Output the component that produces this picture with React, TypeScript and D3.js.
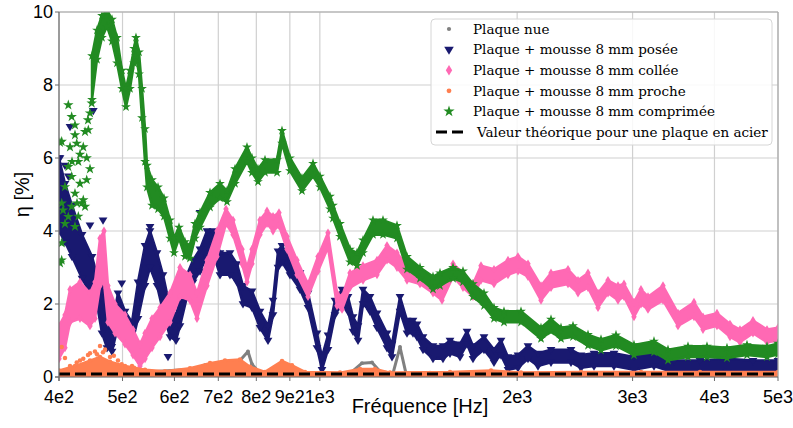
import * as d3 from "d3";

const W = 793;
const H = 428;
const plot = { left: 59, right: 778, top: 12, bottom: 377 };

// Plaque nue (grey dots, mostly hidden under the orange ones)
const nueFreq = [400, 442.9, 462, 531.7, 645, 668, 704.2, 755.4, 776.9, 788, 810.4, 1111.8, 1159.6, 1201.1, 1235.3, 1293, 1325.2, 1353.4, 1472.5, 2027.2, 5000];
const nueEta = [0.1, 0.3, 0.15, 0.12, 0.22, 0.32, 0.28, 0.45, 0.7, 0.35, 0.1, 0.1, 0.38, 0.4, 0.15, 0.1, 0.82, 0.1, 0.12, 0.1, 0.1];

// Plaque + mousse 8 mm posée
const poseeFreq = [400, 408.5, 418.7, 433.7, 449.2, 457.1, 465.2, 473.5, 481.9, 492.1, 504.4, 516.9, 527.9, 541.1, 550.7, 564.4, 576.4, 590.8, 603.3, 611.9, 627.1, 640.5, 656.4, 672.7, 687.1, 704.2, 729.3, 747.5, 763.4, 788, 810.4, 833.5, 848.3, 863.3, 875.5, 900.5, 932.7, 959.3, 990.1, 1007.6, 1029.1, 1054.7, 1081, 1104, 1123.5, 1143.5, 1163.7, 1192.7, 1222.4, 1266.1, 1288.5, 1325.2, 1358.2, 1387.2, 1406.8, 1436.8, 1488.1, 1541.3, 1579.7, 1636.2, 1676.9, 1712.6, 1780.1, 1843.7, 1889.6, 1936.7, 2005.9, 2077.6, 2151.9, 2252.5, 2416.4, 2502.8, 2619.8, 2810.3, 3014.9, 3234.4, 3469.8, 3801.5, 4179.7, 4579.6, 5000];
const poseeLow = [4.0, 3.7, 3.3, 2.7, 2.2, 2.0, 1.2, 0.8, 0.7, 1.4, 1.0, 0.9, 1.6, 2.5, 3.0, 2.5, 1.8, 1.1, 1.0, 1.4, 2.2, 2.6, 2.9, 3.3, 3.4, 2.8, 2.8, 2.6, 2.0, 1.9, 1.35, 1.0, 1.7, 3.0, 3.15, 2.8, 2.4, 1.9, 0.8, 0.2, 0.75, 1.7, 2.0, 1.8, 1.25, 1.0, 2.0, 1.8, 1.35, 0.8, 0.55, 1.8, 1.2, 1.2, 1.1, 0.75, 0.5, 0.5, 0.65, 0.55, 0.9, 0.5, 0.75, 0.4, 0.6, 0.2, 0.25, 0.5, 0.3, 0.4, 0.4, 0.25, 0.3, 0.3, 0.2, 0.3, 0.12, 0.12, 0.15, 0.12, 0.12];
const poseeHigh = [6.0, 5.3, 4.7, 3.9, 3.3, 2.8, 2.5, 1.8, 1.4, 2.3, 1.8, 1.5, 2.6, 3.6, 4.0, 3.4, 2.8, 1.9, 1.7, 2.1, 2.8, 3.2, 3.5, 4.0, 4.0, 3.4, 3.4, 3.1, 2.5, 2.35, 1.8, 1.4, 2.1, 3.45, 3.6, 3.2, 2.85, 2.3, 1.2, 0.55, 1.15, 2.1, 2.4, 2.2, 1.65, 1.4, 2.4, 2.2, 1.75, 1.2, 0.9, 2.2, 1.55, 1.55, 1.45, 1.1, 0.85, 0.85, 1.0, 0.9, 1.25, 0.85, 1.1, 0.75, 1.0, 0.55, 0.6, 0.85, 0.65, 0.75, 0.75, 0.6, 0.65, 0.65, 0.55, 0.65, 0.45, 0.45, 0.5, 0.45, 0.45];
const poseeOutFreq = [401.4, 415.8, 451.2, 466.9, 446, 498.6, 481.4, 586.6, 597.6, 550.7, 656.4, 408.5, 413.3];
const poseeOutEta = [6.0, 6.86, 7.3, 4.3, 4.16, 2.57, 0.83, 0.56, 1.42, 4.12, 4.5, 5.8, 5.5];

// Plaque + mousse 8 mm collée
const colleeFreq = [400, 408.5, 415.8, 430.6, 446, 453.9, 462, 468.5, 475.1, 487, 504.4, 518.8, 531.7, 541.1, 554.6, 570.4, 590.8, 611.9, 633.7, 649.5, 672.7, 696.8, 719.2, 737.1, 760.8, 774.2, 788, 810.4, 830.6, 848.3, 866.3, 891, 922.9, 959.3, 993.6, 1029.1, 1062.1, 1081, 1111.8, 1163.7, 1222.4, 1266.1, 1311.3, 1358.2, 1421.7, 1488.1, 1535.9, 1596.5, 1653.5, 1712.6, 1761.4, 1843.7, 1936.7, 2005.9, 2077.6, 2174.7, 2252.5, 2391.1, 2476.6, 2565.1, 2656.8, 2751.8, 2850.1, 2910.8, 3014.9, 3089.9, 3166.9, 3338.2, 3518.9, 3722.3, 3841.8, 4035.4, 4224, 4375, 4579.6, 4810.5, 5000];
const colleeLow = [0.5, 0.8, 1.5, 1.6, 1.4, 1.6, 2.5, 2.6, 1.5, 1.2, 0.9, 0.6, 0.3, 0.5, 0.8, 1.1, 1.5, 2.2, 2.1, 1.6, 2.5, 3.3, 4.2, 3.9, 3.1, 2.6, 3.1, 3.9, 4.2, 4.0, 4.15, 3.5, 2.8, 2.2, 2.9, 3.55, 1.95, 1.85, 2.45, 2.65, 2.8, 3.2, 3.0, 2.65, 2.55, 2.3, 2.1, 2.75, 2.45, 2.2, 2.65, 2.55, 2.8, 2.9, 2.75, 2.1, 2.45, 2.55, 2.3, 2.45, 1.9, 2.3, 2.1, 2.2, 1.65, 2.0, 1.85, 2.1, 1.4, 1.65, 1.3, 1.4, 1.1, 0.95, 1.2, 0.95, 1.0];
const colleeHigh = [1.4, 1.7, 2.4, 2.6, 2.3, 2.6, 3.8, 4.0, 2.5, 2.0, 1.7, 1.3, 0.9, 1.2, 1.6, 1.9, 2.3, 3.0, 2.8, 2.3, 3.2, 4.0, 4.6, 4.3, 3.5, 3.0, 3.5, 4.3, 4.55, 4.4, 4.5, 3.85, 3.2, 2.55, 3.3, 3.95, 2.3, 2.2, 2.85, 3.05, 3.2, 3.6, 3.4, 3.05, 2.95, 2.65, 2.5, 3.1, 2.85, 2.55, 3.05, 2.95, 3.2, 3.3, 3.1, 2.5, 2.85, 2.95, 2.65, 2.85, 2.3, 2.65, 2.5, 2.55, 2.05, 2.4, 2.2, 2.5, 1.75, 2.05, 1.65, 1.75, 1.45, 1.3, 1.55, 1.3, 1.35];

// Plaque + mousse 8 mm proche
const procheFreq = [400, 423.1, 446, 462, 478.5, 504.4, 541.1, 580.5, 633.7, 679.9, 716.6, 755.4, 782.4, 824.8, 875.5, 906.8, 949.2, 1073.4, 1151.5, 1213.8, 1279.5, 1579.7, 1824.4, 2027.2, 2502.8, 3089.9, 3801.5, 5000];
const procheLow = [0.02, 0.02, 0.02, 0.02, 0.02, 0.02, 0.02, 0.02, 0.02, 0.02, 0.02, 0.02, 0.02, 0.02, 0.02, 0.02, 0.02, 0.02, 0.02, 0.02, 0.02, 0.02, 0.02, 0.02, 0.02, 0.02, 0.02, 0.02];
const procheHigh = [0.18, 0.3, 0.45, 0.55, 0.42, 0.3, 0.2, 0.16, 0.24, 0.38, 0.45, 0.48, 0.28, 0.14, 0.44, 0.32, 0.14, 0.12, 0.22, 0.22, 0.12, 0.14, 0.18, 0.12, 0.14, 0.14, 0.14, 0.14];
const procheOutFreq = [462, 453.9, 470.2, 442.9, 478.5, 430.6, 492.1, 415.8, 408.5, 403.8, 498.6, 516.9, 446, 457.1, 435.6, 485, 520.6, 425.7, 466.9];
const procheOutEta = [0.85, 0.7, 0.75, 0.6, 0.55, 0.45, 0.45, 0.3, 0.52, 0.82, 0.35, 0.3, 0.65, 0.62, 0.5, 0.58, 0.25, 0.4, 0.68];

// Plaque + mousse 8 mm comprimée
const comprimeeFreq = [449.2, 457.1, 465.2, 473.5, 481.9, 490.4, 499.1, 506.1, 513.3, 520.6, 524.2, 529.8, 535.4, 541.1, 544.9, 554.6, 566.4, 578.4, 590.8, 599.1, 609.7, 622.7, 633.7, 645, 656.4, 679.9, 704.2, 721.7, 742.3, 774.2, 788, 804.7, 824.8, 860.3, 875.5, 900.5, 939.2, 976.3, 1000.6, 1036.3, 1047.3, 1073.4, 1111.8, 1139.4, 1163.7, 1205.3, 1248.4, 1311.3, 1358.2, 1421.7, 1488.1, 1525.2, 1596.5, 1653.5, 1712.6, 1780.1, 1843.7, 1909.6, 2027.2, 2174.7, 2252.5, 2333, 2433.5, 2565.1, 2685, 2830.2, 3014.9, 3234.4, 3397.4, 3644.7, 3896.1, 4179.7, 4484.1, 4810.5, 5000];
const comprimeeLow = [7.6, 8.7, 9.3, 9.6, 9.2, 8.6, 7.9, 7.4, 7.9, 8.6, 8.8, 8.3, 7.1, 5.9, 5.2, 4.7, 4.6, 4.4, 3.8, 3.4, 3.8, 3.3, 3.25, 3.8, 4.1, 4.65, 4.9, 4.8, 5.3, 5.9, 5.6, 5.35, 5.6, 5.6, 6.4, 5.65, 5.1, 5.5, 5.2, 4.6, 4.35, 3.85, 3.15, 3.05, 3.4, 3.9, 3.9, 3.8, 2.95, 2.7, 2.4, 2.5, 2.7, 2.6, 2.2, 1.95, 1.6, 1.5, 1.5, 1.05, 1.25, 1.05, 1.1, 0.86, 0.73, 0.85, 0.6, 0.68, 0.46, 0.55, 0.55, 0.52, 0.6, 0.55, 0.62];
const comprimeeHigh = [8.8, 9.5, 9.9, 10.05, 9.8, 9.3, 8.4, 7.9, 8.4, 9.0, 9.3, 8.9, 7.9, 6.8, 5.8, 5.4, 5.2, 4.9, 4.3, 3.8, 4.1, 3.7, 3.6, 4.2, 4.5, 5.05, 5.3, 5.1, 5.7, 6.3, 6.0, 5.7, 5.95, 5.95, 6.75, 6.0, 5.45, 5.85, 5.5, 4.95, 4.7, 4.2, 3.5, 3.4, 3.75, 4.3, 4.3, 4.15, 3.3, 3.0, 2.75, 2.85, 3.0, 2.9, 2.55, 2.3, 1.9, 1.8, 1.8, 1.35, 1.58, 1.35, 1.4, 1.16, 1.03, 1.15, 0.88, 0.98, 0.75, 0.84, 0.84, 0.8, 0.88, 0.84, 0.92];
const comprimeeOutFreq = [403.8, 413.3, 418.2, 423.1, 423.1, 415.8, 425.7, 438.3, 443.4, 442.9, 446, 448.7, 435.6, 440.9, 428.1, 413.3, 418.2, 430.6, 440.9, 408.5, 423.1, 435.6, 438.3, 403.8, 418.2, 433.2, 403.8, 403.8, 423.1, 413.3, 401.4, 408.5, 426.1, 405.7, 401.4, 418.7, 430.6, 428.1, 446];
const comprimeeOutEta = [6.45, 7.45, 7.13, 6.9, 6.63, 6.3, 6.4, 6.72, 6.77, 7.04, 7.23, 7.5, 6.3, 6.0, 5.9, 5.76, 5.49, 5.3, 5.4, 5.21, 5.03, 4.85, 4.67, 4.76, 4.67, 4.76, 3.67, 3.2, 4.12, 4.39, 3.12, 4.2, 4.76, 4.57, 6.42, 5.9, 6.1, 4.4, 5.7];

const theoreticalEta = 0.08;

const xTicks = [400, 500, 600, 700, 800, 900, 1000, 2000, 3000, 4000, 5000];
const xTickLabels = ["4e2", "5e2", "6e2", "7e2", "8e2", "9e2", "1e3", "2e3", "3e3", "4e3", "5e3"];
const yTicks = [0, 2, 4, 6, 8, 10];

const legendLabels = [
  "Plaque nue",
  "Plaque + mousse 8 mm posée",
  "Plaque + mousse 8 mm collée",
  "Plaque + mousse 8 mm proche",
  "Plaque + mousse 8 mm comprimée",
  "Valeur théorique pour une plaque en acier",
];

const C = {
  nue: "#808080",
  posee: "#191970",
  collee: "#ff69b4",
  proche: "#ff7f50",
  comprimee: "#228b22",
};

type Kind = "dot" | "tri" | "diamond" | "star";

function markerPath(kind: Kind, s: number) {
  if (kind === "dot") return d3.symbol().type(d3.symbolCircle).size(s)()!;
  if (kind === "star") return d3.symbol().type(d3.symbolStar).size(s)()!;
  if (kind === "tri") {
    const r = Math.sqrt(s) * 0.62;
    return `M${-r},${-r * 0.6}L${r},${-r * 0.6}L0,${r * 1.05}Z`;
  }
  const w = Math.sqrt(s) * 0.38;
  const h = Math.sqrt(s) * 0.62;
  return `M0,${-h}L${w},0L0,${h}L${-w},0Z`;
}

const x = d3.scaleLog().domain([400, 5000]).range([plot.left, plot.right]);
const y = d3.scaleLinear().domain([0, 10]).range([plot.bottom, plot.top]);

function Band({ freq, lo, hi, color, kind, size }: { freq: number[]; lo: number[]; hi: number[]; color: string; kind: Kind; size: number }) {
  const area = d3
    .area<number>()
    .x((_, i) => x(freq[i]))
    .y0((_, i) => y(lo[i]))
    .y1((_, i) => y(hi[i]));
  const m = markerPath(kind, size);
  return (
    <g>
      <path d={area(freq) ?? ""} fill={color} stroke={color} strokeWidth={2.5} strokeLinejoin="round" />
      {freq.map((f, i) => (
        <g key={i}>
          <path d={m} transform={`translate(${x(f)},${y(hi[i])})`} fill={color} />
          <path d={m} transform={`translate(${x(f)},${y(lo[i])})`} fill={color} />
        </g>
      ))}
    </g>
  );
}

function Scatter({ freq, eta, color, kind, size }: { freq: number[]; eta: number[]; color: string; kind: Kind; size: number }) {
  const m = markerPath(kind, size);
  return (
    <g>
      {freq.map((f, i) => (
        <path key={i} d={m} transform={`translate(${x(f)},${y(eta[i])})`} fill={color} />
      ))}
    </g>
  );
}

export default function App() {
  const tickFont = "'Liberation Sans', Arial, sans-serif";
  const legendFont = "'DejaVu Serif', serif";
  const nueLine = d3
    .line<number>()
    .x((f) => x(f))
    .y((_, i) => y(nueEta[i]));

  const legendItems: { kind: Kind | "dash"; color: string; size: number }[] = [
    { kind: "dot", color: C.nue, size: 14 },
    { kind: "tri", color: C.posee, size: 60 },
    { kind: "diamond", color: C.collee, size: 70 },
    { kind: "dot", color: C.proche, size: 18 },
    { kind: "star", color: C.comprimee, size: 40 },
    { kind: "dash", color: "#000", size: 0 },
  ];

  return (
    <svg width={W} height={H} style={{ position: "absolute", left: 0, top: 0, background: "#fff" }}>
      <defs>
        <clipPath id="plot-clip">
          <rect x={plot.left} y={plot.top} width={plot.right - plot.left} height={plot.bottom - plot.top} />
        </clipPath>
      </defs>

      {/* grid */}
      {xTicks.map((t) => (
        <line key={t} x1={x(t)} x2={x(t)} y1={plot.top} y2={plot.bottom} stroke="#d0d0d0" strokeWidth={1.2} />
      ))}
      {yTicks.map((t) => (
        <line key={t} x1={plot.left} x2={plot.right} y1={y(t)} y2={y(t)} stroke="#d0d0d0" strokeWidth={1.2} />
      ))}

      <g clipPath="url(#plot-clip)">
        <path d={nueLine(nueFreq) ?? ""} fill="none" stroke={C.nue} strokeWidth={3} strokeLinejoin="round" />
        <Scatter freq={nueFreq} eta={nueEta} color={C.nue} kind="dot" size={12} />
        <Band freq={poseeFreq} lo={poseeLow} hi={poseeHigh} color={C.posee} kind="tri" size={50} />
        <Scatter freq={poseeOutFreq} eta={poseeOutEta} color={C.posee} kind="tri" size={50} />
        <Band freq={colleeFreq} lo={colleeLow} hi={colleeHigh} color={C.collee} kind="diamond" size={50} />
        <Band freq={procheFreq} lo={procheLow} hi={procheHigh} color={C.proche} kind="dot" size={16} />
        <Scatter freq={procheOutFreq} eta={procheOutEta} color={C.proche} kind="dot" size={16} />
        <Band freq={comprimeeFreq} lo={comprimeeLow} hi={comprimeeHigh} color={C.comprimee} kind="star" size={30} />
        <Scatter freq={comprimeeOutFreq} eta={comprimeeOutEta} color={C.comprimee} kind="star" size={34} />
        <line
          x1={plot.left}
          x2={plot.right}
          y1={y(theoreticalEta)}
          y2={y(theoreticalEta)}
          stroke="#000"
          strokeWidth={3}
          strokeDasharray="11 5"
        />
      </g>

      {/* frame */}
      <line x1={plot.left} x2={plot.right} y1={plot.top} y2={plot.top} stroke="#a8a8a8" strokeWidth={1.2} />
      <line x1={plot.right} x2={plot.right} y1={plot.top} y2={plot.bottom} stroke="#a8a8a8" strokeWidth={1.2} />
      <line x1={plot.left} x2={plot.left} y1={plot.top} y2={plot.bottom + 4} stroke="#6b6b6b" strokeWidth={1.2} />
      <line x1={plot.left - 4} x2={plot.right} y1={plot.bottom} y2={plot.bottom} stroke="#6b6b6b" strokeWidth={1.2} />

      {xTicks.map((t, i) => (
        <g key={t}>
          <line x1={x(t)} x2={x(t)} y1={plot.bottom} y2={plot.bottom + 4} stroke="#6b6b6b" />
          <text x={x(t)} y={403} textAnchor="middle" fontFamily={tickFont} fontSize={18} fill="#000">
            {xTickLabels[i]}
          </text>
        </g>
      ))}
      {yTicks.map((t) => (
        <g key={t}>
          <line x1={plot.left - 4} x2={plot.left} y1={y(t)} y2={y(t)} stroke="#6b6b6b" />
          <text x={53} y={y(t)} dy="0.35em" textAnchor="end" fontFamily={tickFont} fontSize={18} fill="#000">
            {t}
          </text>
        </g>
      ))}

      <text x={420} y={413} textAnchor="middle" fontFamily={tickFont} fontSize={20} fill="#000">
        Fréquence [Hz]
      </text>
      <text
        transform={`translate(29,${(plot.top + plot.bottom) / 2}) rotate(-90)`}
        textAnchor="middle"
        fontFamily={tickFont}
        fontSize={20}
        fill="#000"
      >
        η [%]
      </text>

      {/* legend */}
      <rect x={431} y={19} width={341} height={126} rx={4} fill="#fff" fillOpacity={0.85} stroke="#d6d6d6" />
      {legendItems.map((it, i) => {
        const cy = 29 + i * 20.6;
        return (
          <g key={i}>
            {it.kind === "dash" ? (
              <line x1={436} x2={463} y1={cy} y2={cy} stroke="#000" strokeWidth={3} strokeDasharray="11 5" />
            ) : (
              <path d={markerPath(it.kind, it.size)} transform={`translate(449,${cy})`} fill={it.color} />
            )}
            <text
              x={it.kind === "dash" ? 477 : 473}
              y={cy}
              dy="0.35em"
              fontFamily={legendFont}
              fontSize={13.5}
              fill="#000"
            >
              {legendLabels[i]}
            </text>
          </g>
        );
      })}
    </svg>
  );
}
